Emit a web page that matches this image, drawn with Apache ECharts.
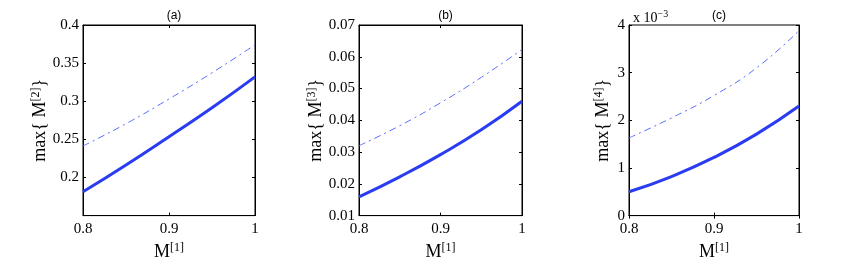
<!DOCTYPE html>
<html><head><meta charset="utf-8">
<script src="https://cdn.jsdelivr.net/npm/echarts@6/dist/echarts.min.js"></script>
<style>html,body{margin:0;padding:0;background:#fff}#c{width:865px;height:266px}</style>
</head><body><div id="c"></div>
<script>
const xVals = [0.8, 0.85, 0.9, 0.95, 1.0];
const xTicks = [0.8, 0.9, 1];
// panel (a)
const aSolid = [0.1812, 0.2165, 0.2535, 0.2914, 0.3319];
const aDash  = [0.2413, 0.2705, 0.3030, 0.3373, 0.3740];
// panel (b)
const bSolid = [0.0159, 0.0222, 0.0292, 0.0370, 0.0460];
const bDash  = [0.0320, 0.0383, 0.0455, 0.0535, 0.0623];
// panel (c), in units of 1e-3
const cSolid = [0.50, 0.82, 1.22, 1.71, 2.30];
const cDash  = [1.63, 2.05, 2.52, 3.10, 3.88];
const panelTitles = ['(a)', '(b)', '(c)'];
const yNames = ['max{ M{sup|[2]}}', 'max{ M{sup|[3]}}', 'max{ M{sup|[4]}}'];
const xName = 'M{sup|[1]}';
const yRanges = [[0.15, 0.4, 0.05], [0.01, 0.07, 0.01], [0, 4, 1]];
const hiddenYLabels = [[0.15], [], []];

const serif = 'Liberation Serif';
const grids = [
  {left: 83, top: 25, width: 172, height: 191, nameGap: 31},
  {left: 359, top: 25, width: 163, height: 191, nameGap: 32},
  {left: 629, top: 25, width: 170, height: 191, nameGap: 15}
];
const solids = [aSolid, bSolid, cSolid];
const dashes = [aDash, bDash, cDash];
const pair = arr => arr.map((v, i) => [xVals[i], v]);
const fmt = v => String(parseFloat(v.toFixed(4)));
const supStyle = {fontFamily: serif, fontSize: 12, color: '#000', verticalAlign: 'top', padding: [0, 0, 9, 0]};

const option = {
  animation: false,
  title: [],
  grid: [], xAxis: [], yAxis: [], series: []
};
grids.forEach((g, i) => {
  option.grid.push({left: g.left, top: g.top, width: g.width, height: g.height, show: true, borderColor: '#000', borderWidth: 1, containLabel: false});
  option.title.push({text: panelTitles[i], left: g.left + g.width / 2, top: 5, textAlign: 'center',
    textStyle: {fontFamily: 'Liberation Sans', fontSize: 12, fontWeight: 'normal', color: '#000'}});
  const xBase = {gridIndex: i, type: 'value', min: 0.8, max: 1, interval: 0.1,
    axisLine: {show: true, lineStyle: {color: '#000', width: 1}}, splitLine: {show: false},
    axisTick: {show: true, inside: true, length: 3, lineStyle: {color: '#000'}}};
  option.xAxis.push(Object.assign({}, xBase, {position: 'bottom',
    name: xName, nameLocation: 'middle', nameGap: 23,
    nameTextStyle: {fontFamily: serif, fontSize: 18, color: '#000', rich: {sup: supStyle}},
    axisLabel: {fontFamily: serif, fontSize: 15, color: '#000', margin: 6, formatter: v => fmt(v)}}));
  option.xAxis.push(Object.assign({}, xBase, {position: 'top', axisLabel: {show: false}}));
  const r = yRanges[i];
  const yBase = {gridIndex: i, type: 'value', min: r[0], max: r[1], interval: r[2],
    axisLine: {show: true, lineStyle: {color: '#000', width: 1}}, splitLine: {show: false},
    axisTick: {show: true, inside: true, length: 3, lineStyle: {color: '#000'}}};
  option.yAxis.push(Object.assign({}, yBase, {position: 'left',
    name: yNames[i], nameLocation: 'middle', nameGap: g.nameGap, nameRotate: 90,
    nameTextStyle: {fontFamily: serif, fontSize: 18, color: '#000', rich: {sup: supStyle}},
    axisLabel: {fontFamily: serif, fontSize: 15, color: '#000', margin: 4,
      formatter: v => hiddenYLabels[i].some(h => Math.abs(h - v) < 1e-9) ? '' : fmt(v)}}));
  option.yAxis.push(Object.assign({}, yBase, {position: 'right', axisLabel: {show: false}}));
  option.series.push({type: 'line', xAxisIndex: 2 * i, yAxisIndex: 2 * i, data: pair(solids[i]), smooth: 0.5,
    showSymbol: false, lineStyle: {color: '#2a3cf2', width: 3}});
  option.series.push({type: 'line', xAxisIndex: 2 * i, yAxisIndex: 2 * i, data: pair(dashes[i]), smooth: 0.5,
    showSymbol: false, lineStyle: {color: '#5a6cff', width: 1, type: [7, 4, 2, 4]}});
});
option.title.push({text: 'x 10{sup|−3}', left: 628, top: 4,
  textStyle: {fontFamily: serif, fontSize: 14, fontWeight: 'normal', color: '#000',
    rich: {sup: {fontFamily: serif, fontSize: 10, color: '#000', verticalAlign: 'top', padding: [0, 0, 8, 0]}}}});
const chart = echarts.init(document.getElementById('c'), null, {renderer: 'canvas'});
chart.setOption(option);
</script></body></html>
